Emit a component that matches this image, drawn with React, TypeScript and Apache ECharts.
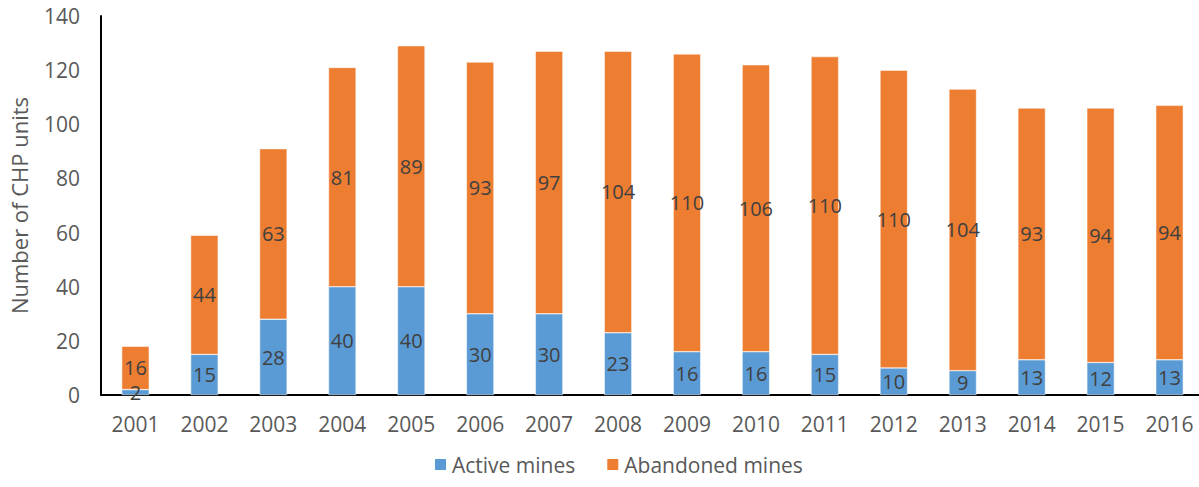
import React, { useEffect, useRef } from "react";
import * as echarts from "echarts";

const years = ["2001","2002","2003","2004","2005","2006","2007","2008","2009","2010","2011","2012","2013","2014","2015","2016"];
const activeMines = [2,15,28,40,40,30,30,23,16,16,15,10,9,13,12,13];
const abandonedMines = [16,44,63,81,89,93,97,104,110,106,110,110,104,93,94,94];

const FONT = "'Open Sans', 'Noto Sans', sans-serif";

export default function App() {
  const ref = useRef<HTMLDivElement>(null);
  useEffect(() => {
    if (!ref.current) return;
    const chart = echarts.init(ref.current, null, { renderer: "svg" });
    const labelStyle = {
      show: true,
      position: "inside",
      color: "#404040",
      fontSize: 20,
      fontFamily: FONT,
    };
    chart.setOption({
      animation: false,
      backgroundColor: "#ffffff",
      textStyle: { fontFamily: FONT },
      grid: { left: 101, right: -5, top: 16, bottom: 92, outerBoundsMode: "none", containLabel: false },
      legend: {
        left: 428,
        bottom: 7,
        itemWidth: 13,
        itemHeight: 13,
        itemGap: 30,
        icon: "rect",
        textStyle: { fontSize: 21, color: "#595959", fontFamily: FONT },
        data: ["Active mines", "Abandoned mines"],
      },
      xAxis: {
        type: "category",
        data: years,
        axisLine: { lineStyle: { color: "#000", width: 2 } },
        axisTick: { show: false },
        axisLabel: { fontSize: 21, color: "#595959", margin: 18, fontFamily: FONT },
      },
      yAxis: {
        type: "value",
        min: 0,
        max: 140,
        interval: 20,
        name: "Number of CHP units",
        nameLocation: "middle",
        nameGap: 71,
        nameTextStyle: { fontSize: 22, color: "#595959", fontFamily: FONT },
        axisLine: { show: true, lineStyle: { color: "#000", width: 2 } },
        axisTick: { show: false },
        splitLine: { show: false },
        axisLabel: { fontSize: 21, color: "#595959", margin: 21, fontFamily: FONT },
      },
      series: [
        {
          name: "Active mines",
          type: "bar",
          stack: "total",
          barWidth: "40%",
          data: activeMines,
          itemStyle: { color: "#5B9BD5", borderColor: "#ffffff", borderWidth: 0.5 },
          label: labelStyle,
        },
        {
          name: "Abandoned mines",
          type: "bar",
          stack: "total",
          barWidth: "40%",
          data: abandonedMines,
          itemStyle: { color: "#ED7D31", borderColor: "#ffffff", borderWidth: 0.5 },
          label: labelStyle,
        },
      ],
    });
    return () => chart.dispose();
  }, []);
  return (
    <div
      ref={ref}
      style={{ position: "fixed", left: 0, top: 0, width: 1199, height: 487 }}
    />
  );
}
